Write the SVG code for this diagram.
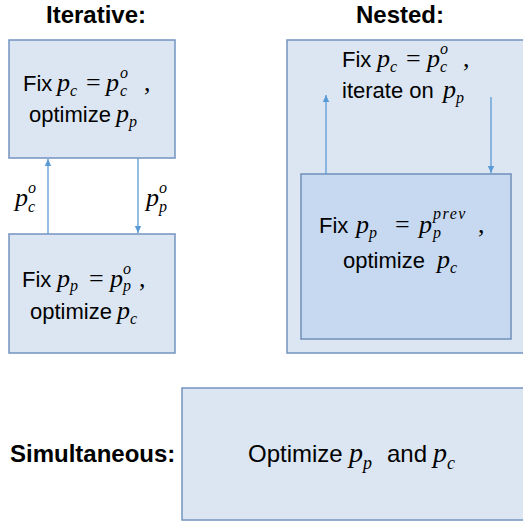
<svg xmlns="http://www.w3.org/2000/svg" width="523" height="521" viewBox="0 0 523 521">
<style>
.box{fill:#DCE6F2;stroke:#7394C0;stroke-width:1.5}
.inner{fill:#C6D9F0;stroke:#6F8FBA;stroke-width:1.5}
.t{font-family:"Liberation Sans",Arial,sans-serif;font-size:22px;fill:#000}
.big{font-size:24px}
.b{font-family:"Liberation Sans",Arial,sans-serif;font-size:24px;font-weight:bold;fill:#000}
.m{font-family:"Liberation Serif","Times New Roman",serif;font-style:italic;font-size:26px;fill:#000}
.ms{font-family:"Liberation Serif","Times New Roman",serif;font-style:italic;font-size:16px;fill:#000}
.mr{font-family:"Liberation Serif","Times New Roman",serif;font-size:26px;fill:#000}
.conn{stroke:#5B9BD5;stroke-width:1.3;fill:none}
</style>
<defs>
<marker id="ah" markerWidth="8" markerHeight="8" refX="7" refY="4" orient="auto" markerUnits="userSpaceOnUse">
<path d="M0,0.8 L7,4 L0,7.2 Z" fill="#5B9BD5"/>
</marker>
</defs>

<text class="b" x="96" y="23" text-anchor="middle">Iterative:</text>
<text class="b" x="400" y="23" text-anchor="middle">Nested:</text>

<g id="iter-top">
<rect class="box" x="9" y="40" width="166" height="118"/>
<text class="t" x="23" y="91">Fix</text>
<text class="m" x="57" y="91">p</text>
<text class="ms" x="70" y="96">c</text>
<text class="mr" x="86" y="91">=</text>
<text class="m" x="106" y="91">p</text>
<text class="ms" x="120" y="78">o</text>
<text class="ms" x="120" y="96">c</text>
<text class="mr" x="144" y="91">,</text>
<text class="t" x="29" y="122">optimize</text>
<text class="m" x="116" y="122">p</text>
<text class="ms" x="129" y="127">p</text>
</g>

<g id="iter-bottom">
<rect class="box" x="9" y="234" width="166" height="119"/>
<text class="t" x="22" y="287">Fix</text>
<text class="m" x="57" y="287">p</text>
<text class="ms" x="70" y="291">p</text>
<text class="mr" x="89" y="287">=</text>
<text class="m" x="110" y="287">p</text>
<text class="ms" x="123" y="274">o</text>
<text class="ms" x="123" y="291">p</text>
<text class="mr" x="139" y="287">,</text>
<text class="t" x="30" y="319">optimize</text>
<text class="m" x="117" y="319">p</text>
<text class="ms" x="130" y="324">c</text>
</g>

<g id="label-pco">
<text class="m" x="15" y="206">p</text>
<text class="ms" x="28" y="193">o</text>
<text class="ms" x="28" y="212">c</text>
</g>
<g id="label-ppo">
<text class="m" x="146" y="206">p</text>
<text class="ms" x="159" y="193">o</text>
<text class="ms" x="159" y="212">p</text>
</g>

<g id="nested-outer">
<rect class="box" x="287" y="40" width="245" height="313"/>
<text class="t" x="342" y="67">Fix</text>
<text class="m" x="377" y="67">p</text>
<text class="ms" x="390" y="72">c</text>
<text class="mr" x="406" y="67">=</text>
<text class="m" x="427" y="67">p</text>
<text class="ms" x="440" y="54">o</text>
<text class="ms" x="440" y="72">c</text>
<text class="mr" x="463" y="67">,</text>
<text class="t" x="342" y="98">iterate on</text>
<text class="m" x="443" y="98">p</text>
<text class="ms" x="456" y="103">p</text>
</g>

<g id="nested-inner">
<rect class="inner" x="301" y="174" width="210" height="165"/>
<text class="t" x="319" y="233">Fix</text>
<text class="m" x="356" y="233">p</text>
<text class="ms" x="369" y="238">p</text>
<text class="mr" x="395" y="233">=</text>
<text class="m" x="419" y="233">p</text>
<text class="ms" x="433" y="219" style="letter-spacing:1.5px">prev</text>
<text class="ms" x="433" y="238">p</text>
<text class="mr" x="478" y="233">,</text>
<text class="t" x="343" y="268">optimize</text>
<text class="m" x="437" y="268">p</text>
<text class="ms" x="450" y="273">c</text>
</g>

<g id="simultaneous">
<text class="b" x="10" y="462">Simultaneous:</text>
<rect class="box" x="182" y="388" width="345" height="132"/>
<text class="t big" x="248" y="462">Optimize</text>
<text class="m" x="349" y="462" style="font-size:28px">p</text>
<text class="ms" x="363" y="469" style="font-size:18px">p</text>
<text class="t big" x="387" y="462">and</text>
<text class="m" x="433" y="462" style="font-size:28px">p</text>
<text class="ms" x="447" y="469" style="font-size:18px">c</text>
</g>

<g id="connectors">
<line class="conn" x1="48" y1="234" x2="48" y2="159" marker-end="url(#ah)"/>
<line class="conn" x1="138" y1="158" x2="138" y2="233" marker-end="url(#ah)"/>
<line class="conn" x1="326" y1="174" x2="326" y2="95" marker-end="url(#ah)"/>
<line class="conn" x1="491" y1="97" x2="491" y2="173" marker-end="url(#ah)"/>
</g>
</svg>
